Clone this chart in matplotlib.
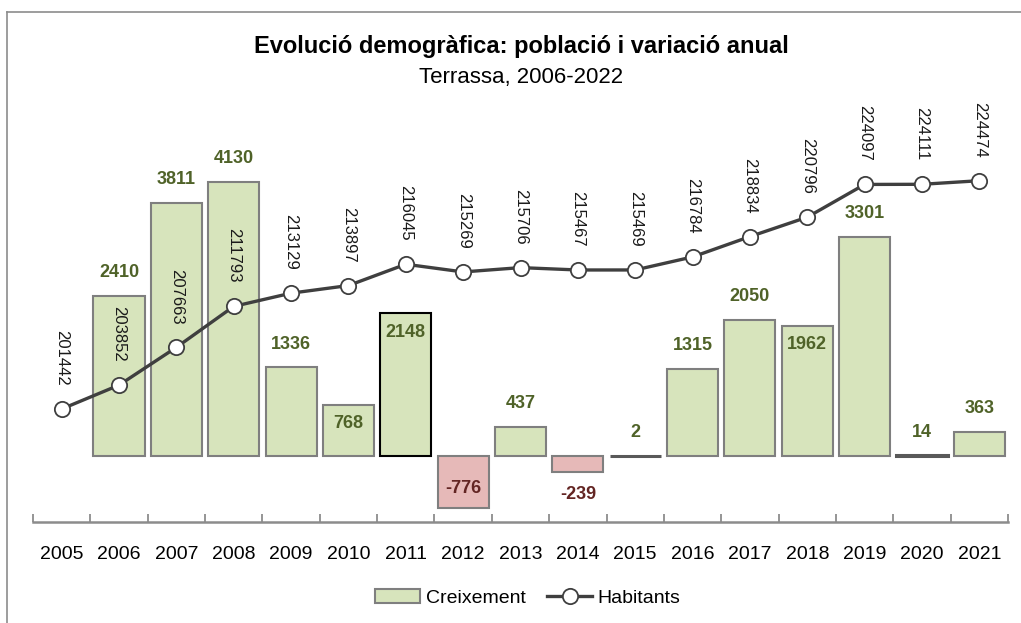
import matplotlib
matplotlib.use("Agg")
import matplotlib.pyplot as plt
from matplotlib.patches import Patch
from matplotlib.lines import Line2D

NARROW = ['Liberation Sans Narrow', 'Liberation Sans', 'DejaVu Sans']
REGULAR = ['Liberation Sans', 'DejaVu Sans']
plt.rcParams['font.family'] = NARROW

years = ['2005', '2006', '2007', '2008', '2009', '2010', '2011', '2012', '2013',
         '2014', '2015', '2016', '2017', '2018', '2019', '2020', '2021']
habitants = [201442, 203852, 207663, 211793, 213129, 213897, 216045, 215269, 215706,
             215467, 215469, 216784, 218834, 220796, 224097, 224111, 224474]
# growth bars start in 2006
creix_years = years[1:]
creixement = [2410, 3811, 4130, 1336, 768, 2148, -776, 437, -239, 2, 1315, 2050, 1962,
              3301, 14, 363]
# where each growth label goes: outside the bar end or inside it
label_pos = ['out', 'out', 'out', 'out', 'in', 'in', 'in', 'out', 'out', 'out', 'out',
             'out', 'in', 'out', 'out', 'out']

GREEN = '#d7e4bc'
PINK = '#e6b9b8'
EDGE = '#7f7f7f'
OLIVE = '#4f6228'
DARKRED = '#632523'
LINE = '#3f3f3f'

fig = plt.figure(figsize=(10.21, 6.23), dpi=100)
ax = fig.add_axes([0.0323, 0.1621, 0.955, 0.6132])
ax2 = ax.twinx()

x_all = list(range(len(years)))
x_bar = [years.index(y) for y in creix_years]

colors = [GREEN if v >= 0 else PINK for v in creixement]
bars = ax.bar(x_bar, creixement, width=0.89, color=colors, edgecolor=EDGE, linewidth=1.5, zorder=2)
bars[creix_years.index('2011')].set_edgecolor('black')
# almost-zero bars show up as a dark flat line
for b, v in zip(bars, creixement):
    if abs(v) < 20:
        b.set_edgecolor('#595959')
        b.set_linewidth(2.2)

for b, v, pos in zip(bars, creixement, label_pos):
    cx = b.get_x() + b.get_width() / 2
    col = OLIVE if v >= 0 else DARKRED
    sign = 1 if v >= 0 else -1
    off = 23 if pos == 'out' else -19
    ax.annotate(str(v), (cx, v), xytext=(0, sign * off * 0.72), textcoords='offset points',
                ha='center', va='center', fontsize=13, fontweight='bold', color=col, zorder=5)

ax.set_xlim(-0.5, len(years) - 0.5)
ax.set_ylim(-994, 4757)

ax2.plot(x_all, habitants, color=LINE, linewidth=2.4, marker='o', markersize=11,
         markerfacecolor='white', markeredgecolor=LINE, markeredgewidth=1.3, zorder=4)
ax2.set_ylim(190042, 228581)
for xi, h in zip(x_all, habitants):
    ax2.annotate(str(h), (xi, h), xytext=(0, 51 * 0.72), textcoords='offset points',
                 ha='center', va='center', rotation=270, fontsize=12, color='#1a1a1a')

ax2.set_zorder(ax.get_zorder() + 1)
ax2.patch.set_visible(False)

for a in (ax, ax2):
    for s in ['top', 'right', 'left']:
        a.spines[s].set_visible(False)
    a.set_yticks([])
ax2.spines['bottom'].set_visible(False)
ax.spines['bottom'].set_color('#8c8c8c')
ax.spines['bottom'].set_linewidth(1.8)
ax.set_xticks([i - 0.5 for i in range(len(years) + 1)], minor=False)
ax.set_xticklabels([])
ax.tick_params(axis='x', which='major', direction='in', length=6, width=1.3, color='#8c8c8c')
ax.set_xticks(x_all, minor=True)
ax.set_xticklabels(years, minor=True, fontsize=14, family=REGULAR)
ax.tick_params(axis='x', which='minor', length=0, pad=17)

fig.text(0.5103, 1 - 47 / 623, 'Evolució demogràfica: població i variació anual',
         ha='center', va='center', fontsize=17, fontweight='bold')
fig.text(0.5103, 1 - 77 / 623, 'Terrassa, 2006-2022', ha='center', va='center', fontsize=16)

handles = [Patch(facecolor=GREEN, edgecolor=EDGE, linewidth=1.5),
           Line2D([], [], color=LINE, linewidth=2.4, marker='o', markersize=11,
                  markerfacecolor='white', markeredgecolor=LINE, markeredgewidth=1.3)]
fig.legend(handles, ['Creixement', 'Habitants'], loc='center', ncol=2, frameon=False,
           bbox_to_anchor=(528 / 1021, 1 - 598 / 623), fontsize=14, handlelength=2.3,
           handletextpad=0.3, columnspacing=1.1)

# outer frame (top and left edges visible)
fig.add_artist(Line2D([7 / 1021, 1], [1 - 12 / 623, 1 - 12 / 623], color='#8c8c8c', linewidth=1.2))
fig.add_artist(Line2D([7 / 1021, 7 / 1021], [0, 1 - 12 / 623], color='#8c8c8c', linewidth=1.2))

fig.savefig('out.png', dpi=100)
